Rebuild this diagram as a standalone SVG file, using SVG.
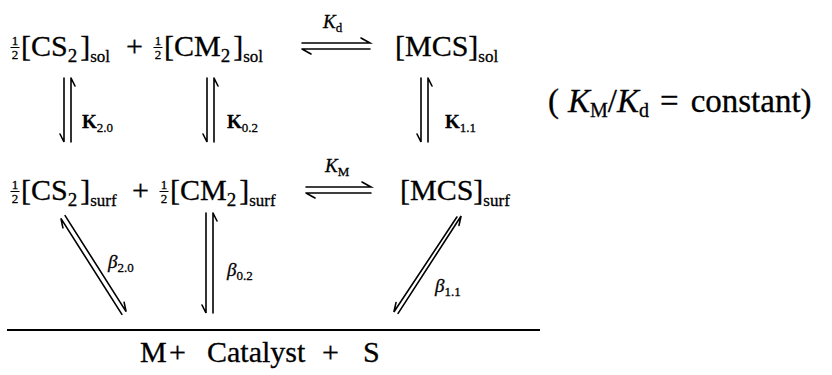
<svg xmlns="http://www.w3.org/2000/svg" width="832" height="375" viewBox="0 0 832 375" font-family="'Liberation Serif', 'DejaVu Serif', serif">
<style>
text{font-family:'Liberation Serif','DejaVu Serif',serif;fill:#000;stroke:#000;stroke-width:0.3}
.big{font-size:30px}
.note{font-size:33px}
.s2{font-size:19px}
.ss{font-size:17px}
.ns{font-size:20px}
.fr{font-size:13px;text-anchor:middle}
.lbl{font-size:19px}
.lsub{font-size:13px}
.kb{font-size:19px;font-weight:bold}
.it{font-style:italic}
.ar{stroke:#000;stroke-width:1.6;fill:none;stroke-linecap:round}
</style>
<rect width="832" height="375" fill="#fff"/>
<g id="sol-reactants">
<text class="fr" x="15" y="45">1</text><line x1="10.5" y1="47.5" x2="19.5" y2="47.5" stroke="#000" stroke-width="1"/><text class="fr" x="15" y="59">2</text>
<text class="big" x="21" y="56">[CS<tspan class="s2" dy="6">2</tspan><tspan dy="-6" dx="3">]</tspan><tspan class="ss" dy="6">sol</tspan></text>
<text class="big" x="126" y="56">+</text>
<text class="fr" x="158" y="45">1</text><line x1="153.5" y1="47.5" x2="162.5" y2="47.5" stroke="#000" stroke-width="1"/><text class="fr" x="158" y="59">2</text>
<text class="big" x="164" y="56">[CM<tspan class="s2" dy="6">2</tspan><tspan dy="-6" dx="3">]</tspan><tspan class="ss" dy="6">sol</tspan></text>
</g>
<g id="mcs-sol">
<text class="big" x="395" y="56">[MCS]<tspan class="ss" dy="6">sol</tspan></text>
</g>
<g id="surf-reactants">
<text class="fr" x="15" y="189">1</text><line x1="10.5" y1="191.5" x2="19.5" y2="191.5" stroke="#000" stroke-width="1"/><text class="fr" x="15" y="203">2</text>
<text class="big" x="21" y="200">[CS<tspan class="s2" dy="6">2</tspan><tspan dy="-6" dx="3">]</tspan><tspan class="ss" dy="6">surf</tspan></text>
<text class="big" x="132" y="200">+</text>
<text class="fr" x="164" y="189">1</text><line x1="159.5" y1="191.5" x2="168.5" y2="191.5" stroke="#000" stroke-width="1"/><text class="fr" x="164" y="203">2</text>
<text class="big" x="170" y="200">[CM<tspan class="s2" dy="6">2</tspan><tspan dy="-6" dx="3">]</tspan><tspan class="ss" dy="6">surf</tspan></text>
</g>
<g id="mcs-surf">
<text class="big" x="400" y="200">[MCS]<tspan class="ss" dy="6">surf</tspan></text>
</g>
<g id="products">
<line x1="7" y1="330" x2="540" y2="330" stroke="#000" stroke-width="2.2"/>
<text class="big" x="140" y="362">M</text>
<text class="big" x="169" y="362">+</text>
<text class="big" x="207" y="362">Catalyst</text>
<text class="big" x="322" y="362">+</text>
<text class="big" x="363" y="362">S</text>
</g>
<g id="note">
<text class="note" x="548" y="112">(<tspan class="it" dx="9">K</tspan><tspan class="ns" dy="5">M</tspan><tspan dy="-5">/</tspan><tspan class="it">K</tspan><tspan class="ns" dy="5">d</tspan><tspan dy="-5" dx="11">=</tspan><tspan dx="12">constant)</tspan></text>
</g>
<g id="connectors">
<path class="ar" d="M302,43 H370 L361,38 M302,49 H370 M302,49 L311,54"/>
<text class="lbl it" x="323" y="28">K<tspan class="lsub" font-style="normal" dy="4">d</tspan></text>
<path class="ar" d="M306,187 H371 L362,182 M306,193 H371 M306,193 L315,198"/>
<text class="lbl it" x="325" y="172">K<tspan class="lsub" font-style="normal" dy="4">M</tspan></text>
<path class="ar" d="M64,78 V142 L60,134 M71,78 V142 M71,78 L75,86"/>
<text class="kb" x="82" y="128">K<tspan class="lsub" font-weight="normal" dy="4">2.0</tspan></text>
<path class="ar" d="M207,78 V142 L203,134 M214,78 V142 M214,78 L218,86"/>
<text class="kb" x="227" y="128">K<tspan class="lsub" font-weight="normal" dy="4">0.2</tspan></text>
<path class="ar" d="M421,78 V142 L417,134 M428,78 V142 M428,78 L432,86"/>
<text class="kb" x="445" y="128">K<tspan class="lsub" font-weight="normal" dy="4">1.1</tspan></text>
<path class="ar" d="M62.9,227.8 L60.9,218.4 L121.9,314.4 M65.1,215.6 L126.1,311.6 L124.1,302.2"/>
<text class="lbl it" x="108" y="268">β<tspan class="lsub" font-style="normal" dy="4">2.0</tspan></text>
<path class="ar" d="M206,213 V313 L202,305 M213,213 V313 M213,213 L217,221"/>
<text class="lbl it" x="227" y="276">β<tspan class="lsub" font-style="normal" dy="4">0.2</tspan></text>
<path class="ar" d="M396,302.6 L393.9,312 L456.9,217 M398.1,313.4 L461.1,216 L459,225.4"/>
<text class="lbl it" x="435" y="292">β<tspan class="lsub" font-style="normal" dy="4">1.1</tspan></text>
</g>
</svg>
